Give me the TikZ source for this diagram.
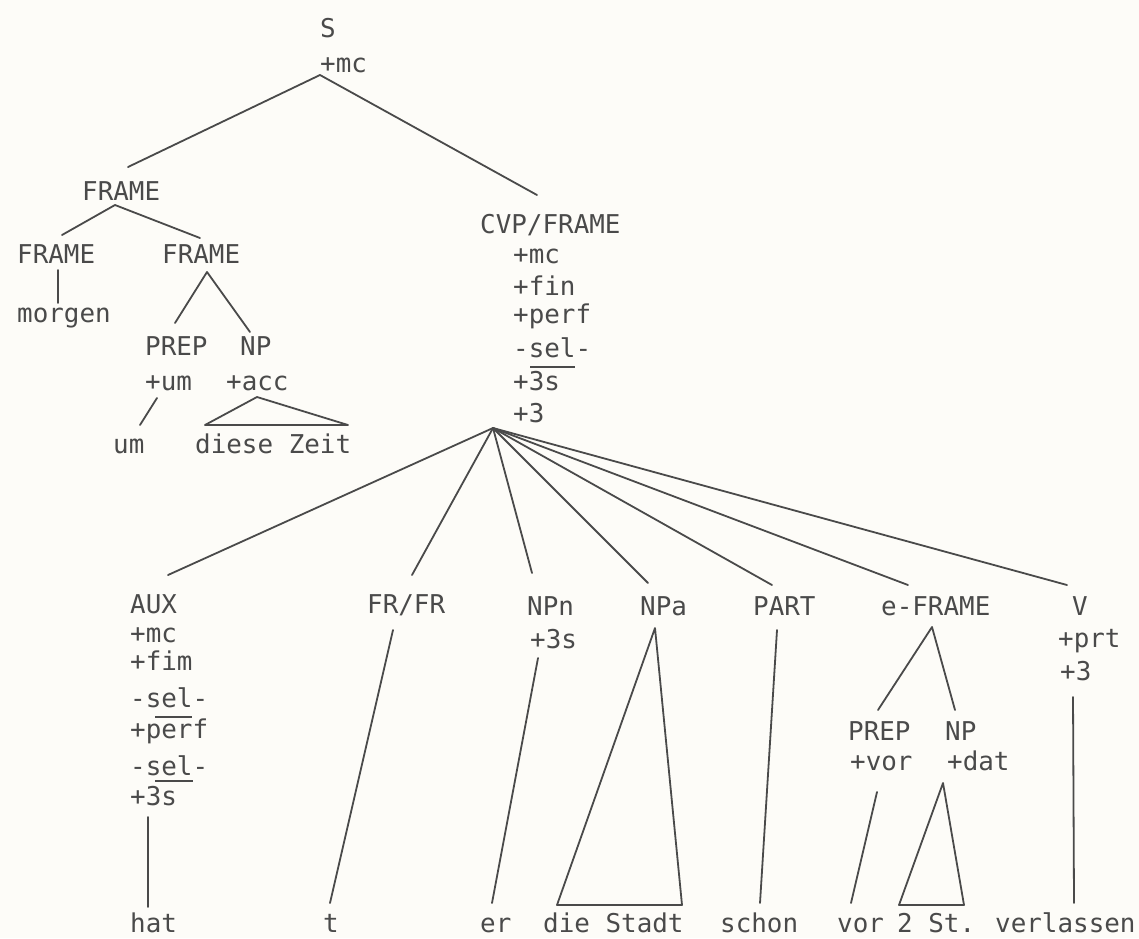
\documentclass[tikz,border=0pt]{standalone}
\usepackage{fontspec}
\newfontfamily\monofam{DejaVu Sans Mono}
\definecolor{ink}{HTML}{4A4A4A}
\definecolor{paper}{HTML}{FDFCF8}
\begin{document}
\begin{tikzpicture}[x=1pt,y=-1pt,
  lbl/.style={anchor=base west, inner sep=0pt, text=ink, font=\monofam\fontsize{25.9}{31}\selectfont},
  edge/.style={draw=ink, line width=1.8pt, line cap=round, line join=round},
  bar/.style={draw=ink, line width=1.4pt}]
\fill[paper] (0,0) rectangle (1139,938);
\useasboundingbox (0,0) rectangle (1139,938);
% ---- upper part
\node[lbl] (s) at (320,37) {S};
\node[lbl] (smc) at (320,72) {+mc};
\node[lbl] (fr) at (82,200) {FRAME};
\node[lbl] (frl) at (17,263) {FRAME};
\node[lbl] (frr) at (162,263) {FRAME};
\node[lbl] (morgen) at (17,322) {morgen};
\node[lbl] (prepa) at (145,355) {PREP};
\node[lbl] (prepaf) at (145,390) {+um};
\node[lbl] (npa1) at (240,355) {NP};
\node[lbl] (npa1f) at (226,390) {+acc};
\node[lbl] (um) at (113,453) {um};
\node[lbl] (dz) at (195,453) {diese Zeit};
% CVP/FRAME
\node[lbl] (cvp) at (480,233) {CVP/FRAME};
\node[lbl] (cvpa) at (513,263) {+mc};
\node[lbl] (cvpb) at (513,295) {+fin};
\node[lbl] (cvpc) at (513,323) {+perf};
\node[lbl] (cvpd) at (513,357) {-sel-};
\node[lbl] (cvpe) at (513,390) {+3s};
\node[lbl] (cvpf) at (513,422) {+3};
\coordinate (cvpbar1) at (530,367); \coordinate (cvpbar2) at (575,367);
\draw[bar] (cvpbar1) -- (cvpbar2);
% ---- daughters of CVP/FRAME
\node[lbl] (aux) at (130,613) {AUX};
\node[lbl] (auxa) at (130,642) {+mc};
\node[lbl] (auxb) at (130,670) {+fim};
\node[lbl] (auxc) at (130,707) {-sel-};
\node[lbl] (auxd) at (130,738) {+perf};
\node[lbl] (auxe) at (130,775) {-sel-};
\node[lbl] (auxf) at (130,805) {+3s};
\coordinate (auxbar1) at (155,717); \coordinate (auxbar2) at (192,717);
\coordinate (auxbar3) at (155,781); \coordinate (auxbar4) at (193,781);
\draw[bar] (auxbar1) -- (auxbar2);
\draw[bar] (auxbar3) -- (auxbar4);
\node[lbl] (frfr) at (367,613) {FR/FR};
\node[lbl] (npn) at (527,615) {NPn};
\node[lbl] (npnf) at (530,648) {+3s};
\node[lbl] (npacc) at (640,615) {NPa};
\node[lbl] (part) at (753,615) {PART};
\node[lbl] (efr) at (881,615) {e-FRAME};
\node[lbl] (prepb) at (848,740) {PREP};
\node[lbl] (prepbf) at (850,770) {+vor};
\node[lbl] (npb) at (945,740) {NP};
\node[lbl] (npbf) at (947,770) {+dat};
\node[lbl] (v) at (1072,615) {V};
\node[lbl] (vf1) at (1058,647) {+prt};
\node[lbl] (vf2) at (1060,680) {+3};
% ---- words
\node[lbl] (hat) at (130,932) {hat};
\node[lbl] (t) at (323,932) {t};
\node[lbl] (er) at (480,932) {er};
\node[lbl] (diestadt) at (543,932) {die Stadt};
\node[lbl] (schon) at (720,932) {schon};
\node[lbl] (vor) at (837,932) {vor};
\node[lbl] (zwst) at (897,932) {2 St.};
\node[lbl] (verl) at (995,932) {verlassen};
% ---- attachment points
\coordinate (sB) at (320,75);
\coordinate (frT) at (128,167);
\coordinate (cvpT) at (537,195);
\coordinate (frB) at (115,205);
\coordinate (frlT) at (62,235);
\coordinate (frrT) at (200,238);
\coordinate (frlB) at (58,270);
\coordinate (morgenT) at (58,303);
\coordinate (frrB) at (207,272);
\coordinate (prepaT) at (175,323);
\coordinate (npa1T) at (250,332);
\coordinate (prepaB) at (157,398);
\coordinate (umT) at (140,425);
\coordinate (npa1B) at (257,397);
\coordinate (dzL) at (205,425);
\coordinate (dzR) at (348,425);
\coordinate (cvpB) at (493,428);
\coordinate (auxT) at (168,575);
\coordinate (frfrT) at (412,575);
\coordinate (npnT) at (532,573);
\coordinate (npaccT) at (648,583);
\coordinate (partT) at (772,585);
\coordinate (efrT) at (908,585);
\coordinate (vT) at (1067,585);
\coordinate (auxB) at (148,817);
\coordinate (hatT) at (148,907);
\coordinate (frfrB) at (393,630);
\coordinate (tT) at (330,903);
\coordinate (npnB) at (538,658);
\coordinate (erT) at (492,903);
\coordinate (npaccB) at (655,628);
\coordinate (dsL) at (557,905);
\coordinate (dsR) at (682,905);
\coordinate (partB) at (777,630);
\coordinate (schonT) at (760,903);
\coordinate (efrB) at (932,627);
\coordinate (prepbT) at (878,710);
\coordinate (npbT) at (955,710);
\coordinate (prepbB) at (877,792);
\coordinate (vorT) at (851,903);
\coordinate (npbB) at (943,783);
\coordinate (zsL) at (899,905);
\coordinate (zsR) at (964,905);
\coordinate (vB) at (1073,697);
\coordinate (verlT) at (1074,903);
% ---- connectors
\draw[edge] (frT) -- (sB) -- (cvpT);
\draw[edge] (frlT) -- (frB) -- (frrT);
\draw[edge] (frlB) -- (morgenT);
\draw[edge] (prepaT) -- (frrB) -- (npa1T);
\draw[edge] (prepaB) -- (umT);
\draw[edge] (dzL) -- (npa1B) -- (dzR) -- cycle;
\foreach \c in {auxT,frfrT,npnT,npaccT,partT,efrT,vT}
  \draw[edge] (cvpB) -- (\c);
\draw[edge] (auxB) -- (hatT);
\draw[edge] (frfrB) -- (tT);
\draw[edge] (npnB) -- (erT);
\draw[edge] (dsL) -- (npaccB) -- (dsR) -- cycle;
\draw[edge] (partB) -- (schonT);
\draw[edge] (prepbT) -- (efrB) -- (npbT);
\draw[edge] (prepbB) -- (vorT);
\draw[edge] (zsL) -- (npbB) -- (zsR) -- cycle;
\draw[edge] (vB) -- (verlT);
\end{tikzpicture}
\end{document}
